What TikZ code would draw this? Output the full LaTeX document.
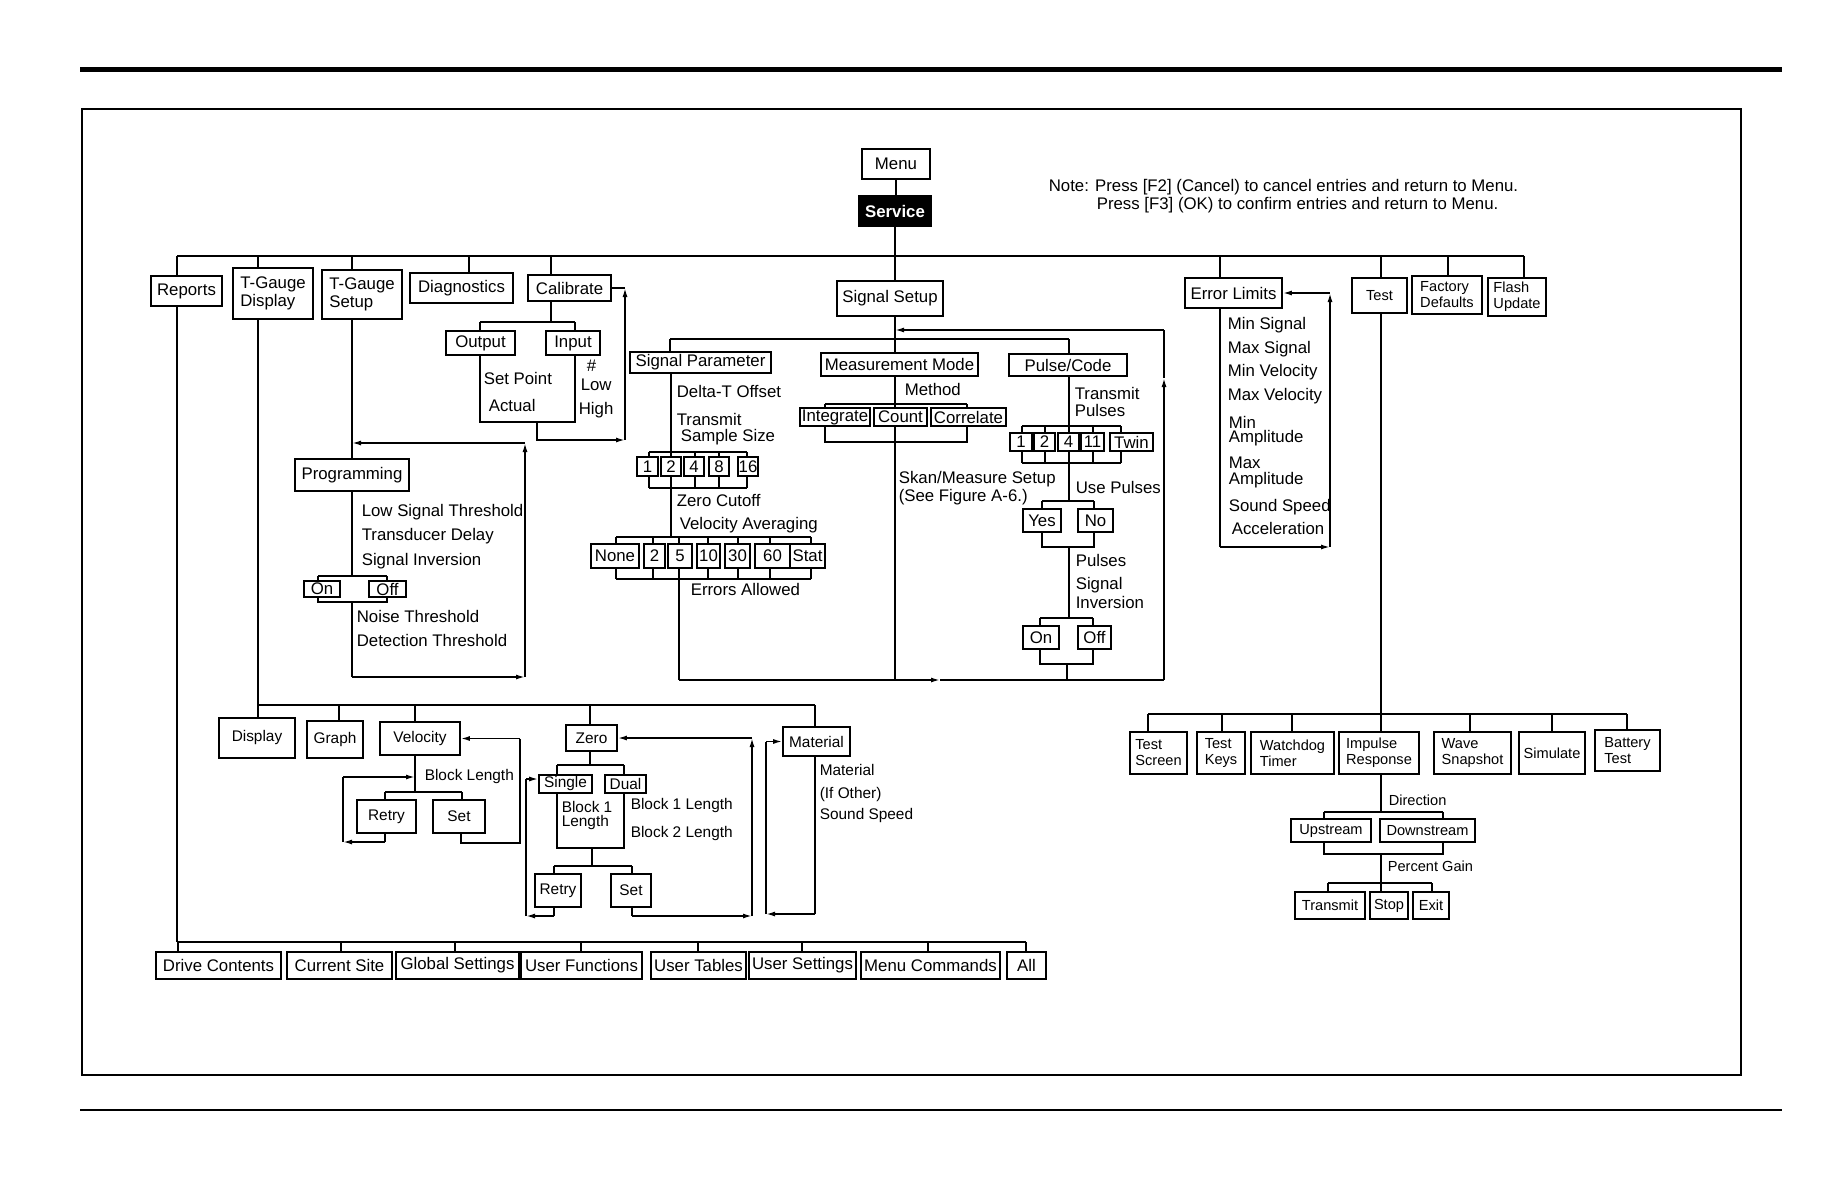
\documentclass[tikz,border=0pt]{standalone}
\usepackage{fontspec}
\setmainfont{Liberation Sans}
\usetikzlibrary{arrows.meta}
\tikzset{
    bx/.style={draw, line width=1.6pt, inner sep=0pt, align=center, font=\fontsize{16.8}{18}\selectfont},
    bxs/.style={bx, font=\fontsize{15.4}{16.5}\selectfont},
    bxt/.style={bx, align=left, font=\fontsize{14.6}{16}\selectfont},
    lbl/.style={anchor=west, inner sep=0pt, font=\fontsize{16.8}{18}\selectfont},
    lbls/.style={lbl, font=\fontsize{15.4}{16.5}\selectfont},
    lblt/.style={lbl, font=\fontsize{14.6}{16}\selectfont},
    arr/.style={-{Latex[length=9pt,width=5pt]}}
}
\begin{document}
\begin{tikzpicture}[x=1pt, y=-1pt, line width=1.6pt]
\useasboundingbox (0,0) rectangle (1836,1188);
\draw[line width=5pt] (80,70) -- (1782,70);
\draw[line width=1.3pt] (82,109) rectangle (1741,1075);
\draw[line width=1.2pt] (80,1110) -- (1782,1110);

% menu and note
\node[bx, minimum width=68, minimum height=30] (menu) at (896,164) {Menu};
\node[bx, fill=black, text=white, font=\fontsize{16.8}{18}\selectfont\bfseries, minimum width=73, minimum height=31] (service) at (895,211) {Service};
\node[lbl] (note1) at (1048,187) {Note: Press [F2] (Cancel) to cancel entries and return to Menu.};
\node[lbl] (note2) at (1096,205) {Press [F3] (OK) to confirm entries and return to Menu.};

% first level
\node[bx, minimum width=71, minimum height=30] (reports) at (186.5,291) {Reports};
\node[bx, align=left, minimum width=80, minimum height=51] (tgdisp) at (273,293.5) {T-Gauge\\Display};
\node[bx, align=left, minimum width=80, minimum height=49] (tgsetup) at (362,294.5) {T-Gauge\\Setup};
\node[bx, minimum width=103, minimum height=30] (diag) at (461.5,288) {Diagnostics};
\node[bx, minimum width=83, minimum height=26] (calib) at (569.5,288) {Calibrate};
\node[bx, minimum width=106, minimum height=35] (sigsetup) at (890,298.5) {Signal Setup};
\node[bx, minimum width=97, minimum height=30] (errlim) at (1233.5,293) {Error Limits};
\node[bxt, minimum width=55, minimum height=35] (test) at (1379.5,295.5) {Test};
\node[bxt, minimum width=70, minimum height=38] (factory) at (1447,295) {Factory\\Defaults};
\node[bxt, minimum width=58, minimum height=38] (flash) at (1517,297) {Flash\\Update};

\draw (menu.south) -- (menu.south |- service.north);
\draw (service.south) -- (service.south |- sigsetup.north);
\draw (177,256) -- (1524,256);
\draw (177,256) -- (177,0 |- reports.north);
\draw (258,256) -- (258,0 |- tgdisp.north);
\draw (352,256) -- (352,0 |- tgsetup.north);
\draw (469,256) -- (469,0 |- diag.north);
\draw (551,256) -- (551,0 |- calib.north);
\draw (1220,256) -- (1220,0 |- errlim.north);
\draw (1381,256) -- (1381,0 |- test.north);
\draw (1448,256) -- (1448,0 |- factory.north);
\draw (1524,256) -- (1524,0 |- flash.north);

% calibrate
\node[bx, minimum width=69, minimum height=24] (output) at (480.5,343) {Output};
\node[bx, minimum width=54, minimum height=24] (input) at (573,343) {Input};
\draw (551,0 |- calib.south) -- (551,322);
\draw (480,322) -- (575,322);
\draw (480,322) -- (480,0 |- output.north);
\draw (575,322) -- (575,0 |- input.north);
\draw (480,0 |- output.south) -- (480,422) -- (575,422) -- (575,0 |- input.south);
\node[lbl] (setpoint) at (483,378) {Set Point};
\node[lbl] (actual) at (488,405) {Actual};
\node[lbl] (hash) at (586,366) {\#};
\node[lbl] (low) at (580,385) {Low};
\node[lbl] (high) at (578,410) {High};
\draw[arr] (537,422) |- (625,440);
\draw[arr] (625,440) -- (625,288);
\draw (625,288) -- (calib.east);

% t-gauge setup
\node[bx, minimum width=114, minimum height=32] (prog) at (352,475) {Programming};
\draw (352,0 |- tgsetup.south) -- (352,0 |- prog.north);
\draw (352,0 |- prog.south) -- (352,576);
\node[lbl] (lowsig) at (361,512) {Low Signal Threshold};
\node[lbl] (tdelay) at (361,536) {Transducer Delay};
\node[lbl] (siginv) at (361,561) {Signal Inversion};
\node[bx, minimum width=36, minimum height=16] (progon) at (322,589) {On};
\node[bx, minimum width=37, minimum height=16] (progoff) at (387.5,589) {Off};
\draw (318,576) -- (387,576);
\draw (318,576) -- (318,0 |- progon.north);
\draw (387,576) -- (387,0 |- progoff.north);
\draw (318,0 |- progon.south) -- (318,602) -- (387,602) -- (387,0 |- progoff.south);
\draw (352,602) -- (352,677);
\node[lbl] (noise) at (356,616) {Noise Threshold};
\node[lbl] (detect) at (356,640) {Detection Threshold};
\draw[arr] (352,677) -- (525,677);
\draw[arr] (525,677) -- (525,443);
\draw[arr] (525,443) -- (352,443);

% signal setup
\node[bx, minimum width=141, minimum height=21] (sigpar) at (700.5,362.5) {Signal Parameter};
\node[bx, minimum width=157, minimum height=23] (measmode) at (899.5,364.5) {Measurement Mode};
\node[bx, minimum width=118, minimum height=22] (pulse) at (1068,365) {Pulse/Code};
\draw (895,0 |- sigsetup.south) -- (895,339);
\draw (670,339) -- (1069,339);
\draw (670,339) -- (670,0 |- sigpar.north);
\draw (895,339) -- (895,0 |- measmode.north);
\draw (1069,339) -- (1069,0 |- pulse.north);

% signal parameter
\node[lbl] (deltat) at (676,391) {Delta-T Offset};
\node[lbl] (transmit) at (676,419) {Transmit};
\node[lbl] (sampsize) at (680,437) {Sample Size};
\node[bx, minimum width=21, minimum height=19] (ss1) at (647.5,466.5) {1};
\node[bx, minimum width=20, minimum height=19] (ss2) at (671,466.5) {2};
\node[bx, minimum width=20, minimum height=19] (ss4) at (694,466.5) {4};
\node[bx, minimum width=20, minimum height=19] (ss8) at (719,466.5) {8};
\node[bx, minimum width=20, minimum height=19] (ss16) at (748,466.5) {16};
\draw (671,0 |- sigpar.south) -- (671,452);
\draw (649,452) -- (747,452);
\draw (649,488) -- (747,488);
\foreach \n/\x in {ss1/649, ss2/671, ss4/695, ss8/719, ss16/747} {
    \draw (\x,452) -- (\x,0 |- \n.north);
    \draw (\x,0 |- \n.south) -- (\x,488);
}
\draw (671,488) -- (671,537);
\node[lbl] (zerocut) at (676,500) {Zero Cutoff};
\node[lbl] (velavg) at (679,525) {Velocity Averaging};
\node[bx, minimum width=48, minimum height=24] (vnone) at (615,556) {None};
\node[bx, minimum width=21, minimum height=24] (v2) at (654.5,556) {2};
\node[bx, minimum width=24, minimum height=24] (v5) at (680,556) {5};
\node[bx, minimum width=23, minimum height=24] (v10) at (708.5,556) {10};
\node[bx, minimum width=25, minimum height=24] (v30) at (737.5,556) {30};
\node[bx, minimum width=35, minimum height=24] (v60) at (772.5,556) {60};
\node[bx, minimum width=35, minimum height=24] (vstat) at (807.5,556) {Stat};
\draw (616,537) -- (811,537);
\draw (616,579) -- (811,579);
\foreach \n/\x in {vnone/616, v2/653, v5/679, v10/708, v30/738, v60/770, vstat/811} {
    \draw (\x,537) -- (\x,0 |- \n.north);
    \draw (\x,0 |- \n.south) -- (\x,579);
}
\node[lbl] (errallow) at (690,589) {Errors Allowed};
\draw (679,579) -- (679,680);

% measurement mode
\node[lbl] (method) at (904,389) {Method};
\node[bx, minimum width=70, minimum height=18] (integ) at (835,417) {Integrate};
\node[bx, minimum width=53, minimum height=18] (count) at (900.5,417) {Count};
\node[bx, minimum width=75, minimum height=18] (correl) at (968.5,417) {Correlate};
\draw (895,0 |- measmode.south) -- (895,404);
\draw (825,404) -- (967,404);
\draw (825,404) -- (825,0 |- integ.north);
\draw (895,404) -- (895,0 |- count.north);
\draw (967,404) -- (967,0 |- correl.north);
\draw (825,0 |- integ.south) -- (825,442) -- (967,442) -- (967,0 |- correl.south);
\draw (895,0 |- count.south) -- (895,680);
\node[lbl] (skan) at (898,479) {Skan/Measure Setup};
\node[lbl] (seefig) at (898,497) {(See Figure A-6.)};

% pulse/code
\node[lbl] (trpul1) at (1074,393) {Transmit};
\node[lbl] (trpul2) at (1074,410) {Pulses};
\node[bx, minimum width=22, minimum height=18] (p1) at (1021,442) {1};
\node[bx, minimum width=21, minimum height=18] (p2) at (1044.5,442) {2};
\node[bx, minimum width=21, minimum height=18] (p4) at (1068.5,442) {4};
\node[bx, minimum width=23, minimum height=18] (p11) at (1092.5,442) {11};
\node[bx, minimum width=43, minimum height=18] (ptwin) at (1131.5,442) {Twin};
\draw (1069,0 |- pulse.south) -- (1069,426);
\draw (1022,426) -- (1121,426);
\draw (1022,463) -- (1121,463);
\foreach \n/\x in {p1/1022, p2/1045, p4/1069, p11/1093, ptwin/1121} {
    \draw (\x,426) -- (\x,0 |- \n.north);
    \draw (\x,0 |- \n.south) -- (\x,463);
}
\draw (1069,463) -- (1069,501);
\node[lbl] (usepul) at (1075,487) {Use Pulses};
\node[bx, minimum width=38, minimum height=23] (yes) at (1042,520.5) {Yes};
\node[bx, minimum width=35, minimum height=23] (no) at (1095.5,520.5) {No};
\draw (1042,501) -- (1094,501);
\draw (1042,501) -- (1042,0 |- yes.north);
\draw (1094,501) -- (1094,0 |- no.north);
\draw (1042,0 |- yes.south) -- (1042,547) -- (1094,547) -- (1094,0 |- no.south);
\draw (1069,547) -- (1069,618);
\node[lbl] (pulses) at (1075,560) {Pulses};
\node[lbl] (sigin1) at (1075,585) {Signal};
\node[lbl] (sigin2) at (1075,602) {Inversion};
\node[bx, minimum width=36, minimum height=23] (pon) at (1041,637.5) {On};
\node[bx, minimum width=33, minimum height=23] (poff) at (1094.5,637.5) {Off};
\draw (1040,618) -- (1093,618);
\draw (1040,618) -- (1040,0 |- pon.north);
\draw (1093,618) -- (1093,0 |- poff.north);
\draw (1040,0 |- pon.south) -- (1040,664) -- (1093,664) -- (1093,0 |- poff.south);
\draw (1067,664) -- (1067,680);
\draw[arr] (679,680) -- (940,680);
\draw (940,680) -- (1164,680);
\draw[arr] (1164,680) -- (1164,378);
\draw (1164,378) -- (1164,330);
\draw[arr] (1164,330) -- (895,330);

% error limits
\draw (1220,0 |- errlim.south) -- (1220,547);
\draw[arr] (1220,547) -- (1330,547);
\draw[arr] (1330,547) -- (1330,0 |- errlim.east);
\draw[arr] (1330,0 |- errlim.east) -- (errlim.east);
\node[lbl] (minsig) at (1227,325) {Min Signal};
\node[lbl] (maxsig) at (1227,349) {Max Signal};
\node[lbl] (minvel) at (1227,372) {Min Velocity};
\node[lbl] (maxvel) at (1227,396) {Max Velocity};
\node[lbl] (minamp1) at (1228,422) {Min};
\node[lbl] (minamp2) at (1228,438) {Amplitude};
\node[lbl] (maxamp1) at (1228,463) {Max};
\node[lbl] (maxamp2) at (1228,480) {Amplitude};
\node[lbl] (sndspd) at (1228,507) {Sound Speed};
\node[lbl] (accel) at (1231,528) {Acceleration};

% test
\draw (1381,0 |- test.south) -- (1381,714);
\draw (1148,714) -- (1627,714);
\node[bxt, minimum width=57, minimum height=42] (tscreen) at (1158.5,753) {Test\\Screen};
\node[bxt, minimum width=48, minimum height=42] (tkeys) at (1221,753) {Test\\Keys};
\node[bxt, minimum width=83, minimum height=42] (wdog) at (1292.5,753) {Watchdog\\Timer};
\node[bxt, minimum width=80, minimum height=42] (impulse) at (1379,753) {Impulse\\Response};
\node[bxt, minimum width=77, minimum height=42] (wave) at (1472.5,753) {Wave\\Snapshot};
\node[bxt, minimum width=66, minimum height=42] (simulate) at (1552,753) {Simulate};
\node[bxt, minimum width=65, minimum height=41] (battery) at (1627.5,750.5) {Battery\\Test};
\foreach \n/\x in {tscreen/1148, tkeys/1222, wdog/1292, impulse/1381, wave/1470, simulate/1552, battery/1627}
    \draw (\x,714) -- (\x,0 |- \n.north);
\draw (1381,0 |- impulse.south) -- (1381,812);
\node[lblt] (direction) at (1388,800) {Direction};
\node[bxt, minimum width=80, minimum height=23] (upstream) at (1331,830.5) {Upstream};
\node[bxt, minimum width=95, minimum height=23] (downstream) at (1427.5,830.5) {Downstream};
\draw (1324,812) -- (1443,812);
\draw (1324,812) -- (1324,0 |- upstream.north);
\draw (1443,812) -- (1443,0 |- downstream.north);
\draw (1324,0 |- upstream.south) -- (1324,854) -- (1443,854) -- (1443,0 |- downstream.south);
\draw (1381,854) -- (1381,883);
\node[lblt] (pgain) at (1387,866) {Percent Gain};
\node[bxt, minimum width=70, minimum height=27] (itransmit) at (1330,905.5) {Transmit};
\node[bxt, minimum width=38, minimum height=27] (istop) at (1389,905.5) {Stop};
\node[bxt, minimum width=36, minimum height=27] (iexit) at (1431,905.5) {Exit};
\draw (1328,883) -- (1432,883);
\draw (1328,883) -- (1328,0 |- itransmit.north);
\draw (1381,883) -- (1381,0 |- istop.north);
\draw (1432,883) -- (1432,0 |- iexit.north);

% t-gauge display
\node[bxs, minimum width=76, minimum height=40] (display) at (257,738) {Display};
\node[bxs, minimum width=56, minimum height=37] (graph) at (335,739.5) {Graph};
\node[bxs, minimum width=80, minimum height=33] (velocity) at (420,738.5) {Velocity};
\node[bxs, minimum width=51, minimum height=26] (zero) at (591.5,738) {Zero};
\node[bxs, minimum width=67, minimum height=29] (material) at (816.5,741.5) {Material};
\draw (258,0 |- tgdisp.south) -- (258,0 |- display.north);
\draw (258,705) -- (815,705);
\draw (339,705) -- (339,0 |- graph.north);
\draw (415,705) -- (415,0 |- velocity.north);
\draw (590,705) -- (590,0 |- zero.north);
\draw (815,705) -- (815,0 |- material.north);

% velocity
\draw (415,0 |- velocity.south) -- (415,792);
\node[lbls] (blklen) at (424,777) {Block Length};
\node[bxs, minimum width=59, minimum height=33] (vretry) at (386.5,816.5) {Retry};
\node[bxs, minimum width=52, minimum height=33] (vset) at (459,816.5) {Set};
\draw (385,792) -- (462,792);
\draw (385,792) -- (385,0 |- vretry.north);
\draw (462,792) -- (462,0 |- vset.north);
\draw (385,0 |- vretry.south) -- (385,842);
\draw[arr] (385,842) -- (343,842);
\draw (343,842) -- (343,777);
\draw[arr] (343,777) -- (415,777);
\draw (461,0 |- vset.south) -- (461,843) -- (520,843) -- (520,0 |- velocity.east);
\draw[arr] (520,0 |- velocity.east) -- (velocity.east);

% zero
\draw (590,0 |- zero.south) -- (590,765);
\node[bxs, minimum width=53, minimum height=18] (single) at (565.5,784) {Single};
\node[bxs, minimum width=41, minimum height=18] (dual) at (625.5,784) {Dual};
\draw (557,765) -- (624,765);
\draw (557,765) -- (557,0 |- single.north);
\draw (624,765) -- (624,0 |- dual.north);
\draw (557,0 |- single.south) -- (557,848) -- (624,848) -- (624,0 |- dual.south);
\node[lbls] (blk1a) at (561,807) {Block 1};
\node[lbls] (blk1b) at (561,823) {Length};
\node[lbls] (blk1len) at (630,806) {Block 1 Length};
\node[lbls] (blk2len) at (630,834) {Block 2 Length};
\draw (592,848) -- (592,866);
\node[bxs, minimum width=46, minimum height=33] (zretry) at (558,890.5) {Retry};
\node[bxs, minimum width=40, minimum height=33] (zset) at (631,890.5) {Set};
\draw (554,866) -- (632,866);
\draw (554,866) -- (554,0 |- zretry.north);
\draw (632,866) -- (632,0 |- zset.north);
\draw (554,0 |- zretry.south) -- (554,916);
\draw[arr] (554,916) -- (526,916);
\draw (526,916) -- (526,779);
\draw[arr] (526,779) -- (single.west |- 0,779);
\draw (632,0 |- zset.south) -- (632,916);
\draw[arr] (632,916) -- (752,916);
\draw[arr] (752,916) -- (752,0 |- zero.east);
\draw[arr] (752,0 |- zero.east) -- (zero.east);

% material
\node[lbls] (mat) at (819,770) {Material};
\node[lbls] (ifother) at (819,795) {(If Other)};
\node[lbls] (mspeed) at (819,816) {Sound Speed};
\draw (815,0 |- material.south) -- (815,914);
\draw[arr] (815,914) -- (766,914);
\draw (766,914) -- (766,0 |- material.west);
\draw[arr] (766,0 |- material.west) -- (material.west);

% reports
\draw (177,0 |- reports.south) -- (177,942);
\draw (177,942) -- (1026,942);
\node[bx, minimum width=125, minimum height=27] (drive) at (218.5,965.5) {Drive Contents};
\node[bx, minimum width=105, minimum height=27] (cursite) at (339.5,965.5) {Current Site};
\node[bx, minimum width=123, minimum height=27] (global) at (457.5,965.5) {Global Settings};
\node[bx, minimum width=121, minimum height=27] (userfun) at (581.5,965.5) {User Functions};
\node[bx, minimum width=95, minimum height=27] (usertab) at (698.5,965.5) {User Tables};
\node[bx, minimum width=107, minimum height=27] (userset) at (802.5,965.5) {User Settings};
\node[bx, minimum width=139, minimum height=27] (menucmd) at (930.5,965.5) {Menu Commands};
\node[bx, minimum width=39, minimum height=27] (all) at (1026.5,965.5) {All};
\foreach \n/\x in {drive/178, cursite/341, global/455, userfun/581, usertab/698, userset/802, menucmd/928, all/1026}
    \draw (\x,942) -- (\x,0 |- \n.north);
\end{tikzpicture}
\end{document}
